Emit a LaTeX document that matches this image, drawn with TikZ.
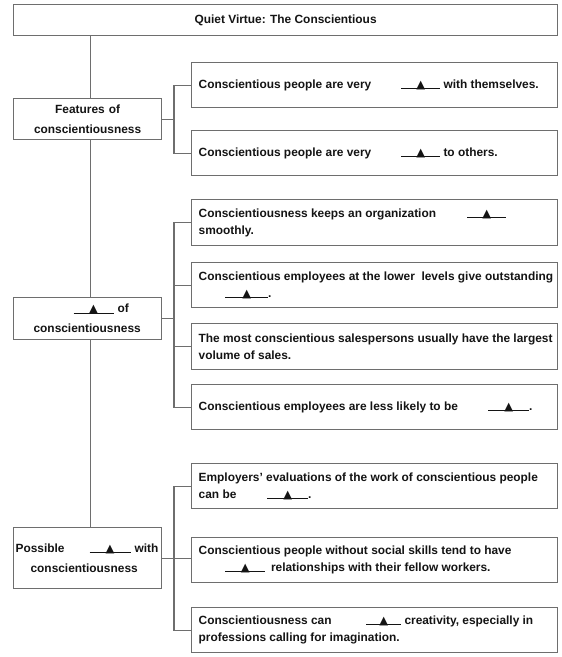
\documentclass[tikz,border=0pt]{standalone}
\usepackage{fontspec}
\setmainfont{Liberation Sans}
\newfontfamily\trifont{DejaVu Sans}
\definecolor{ln}{RGB}{110,110,110}
\definecolor{tx}{RGB}{20,20,20}
\newcommand{\tri}{{\trifont\fontsize{11.5}{11.5}\selectfont ▲}}
\newcommand{\gapline}[1]{\rlap{\rule[-0.5pt]{#1}{0.8pt}}\makebox[#1]{\tri}}
\newcommand{\pad}[2]{\makebox[#1][l]{#2}}
\begin{document}
\begin{tikzpicture}[x=1pt,y=-1pt,
 box/.style={draw=ln,line width=1.2pt,fill=white,anchor=north west,inner sep=0pt},
 rtxt/.style={anchor=west,align=left,inner sep=0pt,text=tx,font=\bfseries\fontsize{11.9}{17}\selectfont},
 ltxt/.style={text=tx,font=\bfseries\fontsize{11.9}{20}\selectfont,text width=148pt},
 link/.style={draw=ln,line width=1.2pt}]
\useasboundingbox (0,0) rectangle (562,657);
\coordinate (j1) at (174,0);

% title
\node[box,minimum width=544pt,minimum height=31pt,text=tx,font=\bfseries\fontsize{11.9}{14}\selectfont] (title) at (13,4) {Quiet Virtue: The Conscientious};

% left boxes
\node[box,ltxt,align=center,minimum width=148pt,minimum height=41pt] (feat) at (13,98) {Features of\\conscientiousness};
\node[box,ltxt,align=left,minimum width=148pt,minimum height=42pt] (adv) at (13,297) {\hspace*{60pt}\gapline{40pt} of\\\hspace*{20pt}conscientiousness};
\node[box,ltxt,align=left,minimum width=148pt,minimum height=61pt] (prob) at (13,527) {\hspace*{2pt}\pad{74pt}{Possible}\gapline{41pt} with\\\hspace*{17pt}conscientiousness};

% right boxes
\node[box,minimum width=366pt,minimum height=45pt] (b1) at (191,62) {};
\node[box,minimum width=366pt,minimum height=45pt] (b2) at (191,130) {};
\node[box,minimum width=366pt,minimum height=46pt] (b3) at (191,199) {};
\node[box,minimum width=366pt,minimum height=45pt] (b4) at (191,262) {};
\node[box,minimum width=366pt,minimum height=46pt] (b5) at (191,323) {};
\node[box,minimum width=366pt,minimum height=45pt] (b6) at (191,384) {};
\node[box,minimum width=366pt,minimum height=45pt] (b7) at (191,463) {};
\node[box,minimum width=366pt,minimum height=45pt] (b8) at (191,537) {};
\node[box,minimum width=366pt,minimum height=45pt] (b9) at (191,607) {};

% texts
\node[rtxt] (t1) at ([xshift=7.5pt]b1.west) {\pad{202.5pt}{Conscientious people are very}\gapline{39pt} with themselves.};
\node[rtxt] (t2) at ([xshift=7.5pt]b2.west) {\pad{202.5pt}{Conscientious people are very}\gapline{39pt} to others.};
\node[rtxt] (t3) at ([xshift=7.5pt]b3.west) {\pad{268.5pt}{Conscientiousness keeps an organization}\gapline{39pt}\\smoothly.};
\node[rtxt] (t4) at ([xshift=7.5pt]b4.west) {Conscientious employees at the lower\ \ levels give outstanding\\\hspace*{26.5pt}\gapline{43pt}.};
\node[rtxt] (t5) at ([xshift=7.5pt]b5.west) {The most conscientious salespersons usually have the largest\\volume of sales.};
\node[rtxt] (t6) at ([xshift=7.5pt]b6.west) {\pad{289.5pt}{Conscientious employees are less likely to be}\gapline{41pt}.};
\node[rtxt] (t7) at ([xshift=7.5pt]b7.west) {Employers’ evaluations of the work of conscientious people\\\pad{68.5pt}{can be}\gapline{41pt}.};
\node[rtxt] (t8) at ([xshift=7.5pt]b8.west) {Conscientious people without social skills tend to have\\\hspace*{26.5pt}\gapline{40pt}\hspace{2.5pt} relationships with their fellow workers.};
\node[rtxt] (t9) at ([xshift=7.5pt]b9.west) {\pad{167.5pt}{Conscientiousness can}\gapline{35pt} creativity, especially in\\professions calling for imagination.};

% trunk
\draw[link] ([xshift=3pt]feat.north |- title.south) -- ([xshift=3pt]feat.north);
\draw[link] ([xshift=3pt]feat.south) -- ([xshift=3pt]adv.north);
\draw[link] ([xshift=3pt]adv.south) -- ([xshift=3pt]prob.north);

% group 1
\draw[link] (feat.east) -- (feat.east -| j1);
\draw[link] (b1.west) -- (b1.west -| j1) -- (b2.west -| j1) -- (b2.west);
% group 2
\draw[link] (adv.east) -- (adv.east -| j1);
\draw[link] (b3.west) -- (b3.west -| j1) -- (b6.west -| j1) -- (b6.west);
\draw[link] (b4.west -| j1) -- (b4.west);
\draw[link] (b5.west -| j1) -- (b5.west);
% group 3
\draw[link] (prob.east) -- (prob.east -| b8.west);
\draw[link] (b7.west) -- (b7.west -| j1) -- (b9.west -| j1) -- (b9.west);
\end{tikzpicture}
\end{document}
